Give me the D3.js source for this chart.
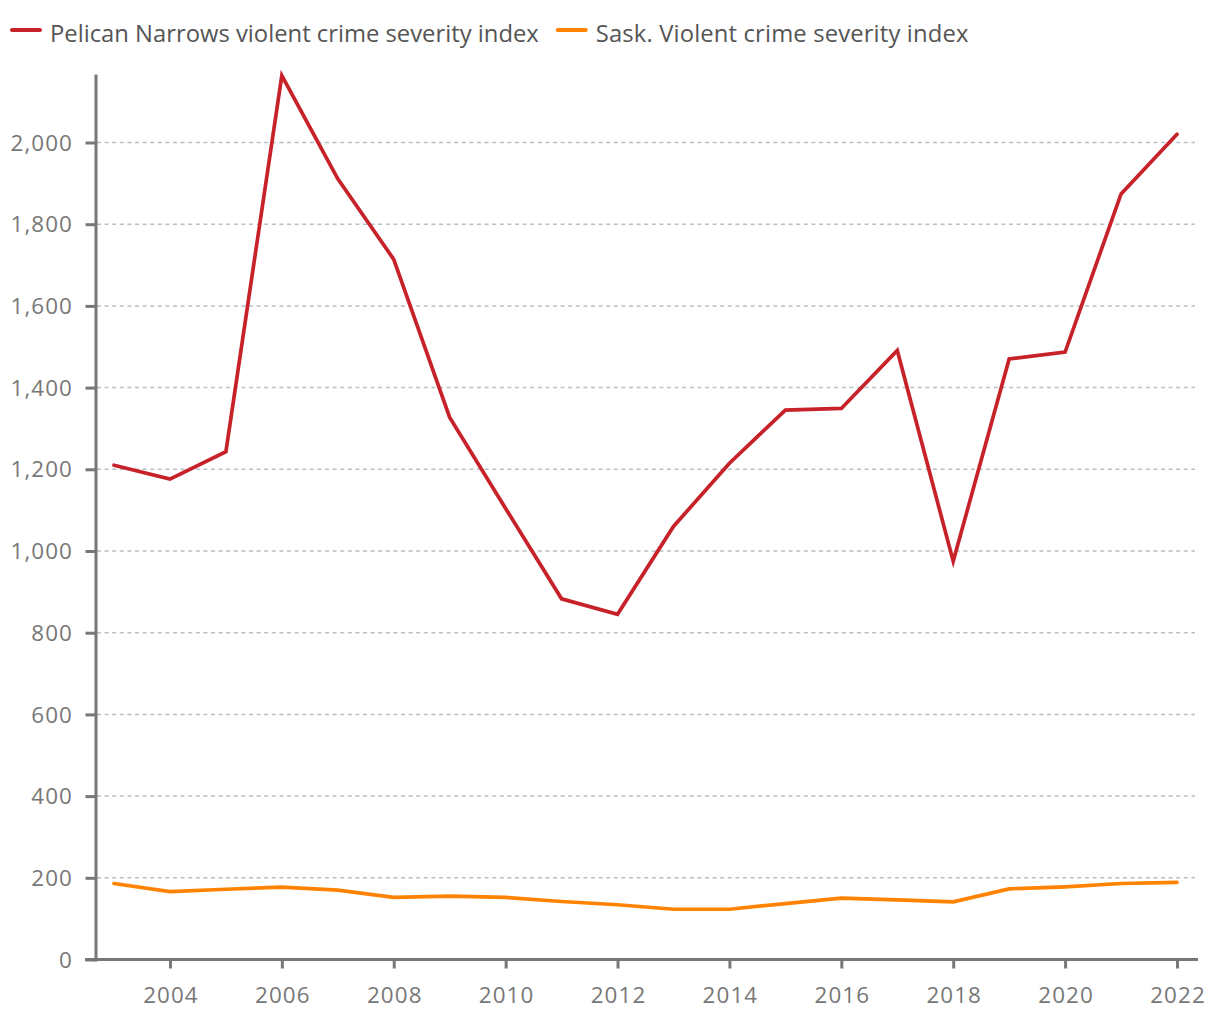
<!DOCTYPE html>
<html><head><meta charset="utf-8">
<script src="https://cdn.jsdelivr.net/npm/d3@7"></script>
<style>body{margin:0;background:#fff} svg{display:block}</style>
</head><body>
<svg id="c" width="1220" height="1020"></svg>
<script>
const years = [2003,2004,2005,2006,2007,2008,2009,2010,2011,2012,2013,2014,2015,2016,2017,2018,2019,2020,2021,2022];
const pelican = [1210,1176,1243,2164,1911,1714,1327,1104,883,845,1060,1215,1345,1349,1491,975,1470,1487,1874,2020];
const sask = [186,166,172,177,170,152,155,152,142,134,123,123,137,150,146,141,173,178,186,189];
const yTicks = [0,200,400,600,800,1000,1200,1400,1600,1800,2000];
const xTicks = [2004,2006,2008,2010,2012,2014,2016,2018,2020,2022];
const seriesNames = ["Pelican Narrows violent crime severity index","Sask. Violent crime severity index"];
const seriesColors = ["#c7212a","#ff8300"];

const svg = d3.select("#c");
const axisColor = "#777777";
const labelColor = "#777777";
const gridColor = "#b6c0c6";

const x = d3.scaleLinear().domain([2003, 2022]).range([114, 1177]);
const y = d3.scaleLinear().domain([0, d3.max(pelican)]).range([959.5, 75.5]);

// gridlines
svg.append("g").selectAll("line").data(yTicks.filter(d => d > 0)).join("line")
  .attr("x1", 97).attr("x2", 1195)
  .attr("y1", d => y(d)).attr("y2", d => y(d))
  .attr("stroke", gridColor).attr("stroke-width", 1.5)
  .attr("stroke-dasharray", "4,3.6");

// y axis
const yAxis = svg.append("g").attr("transform", "translate(95.5,0)")
  .call(d3.axisLeft(y).tickValues(yTicks).tickSize(10).tickSizeOuter(0).tickPadding(13).tickFormat(d3.format(",")));
yAxis.select(".domain").attr("stroke", axisColor).attr("stroke-width", 3).attr("stroke-linecap", "square");
yAxis.selectAll(".tick line").attr("stroke", axisColor).attr("stroke-width", 3);
yAxis.selectAll(".tick text")
  .attr("fill", labelColor).attr("font-family", "'Open Sans'").attr("font-size", 22.4)
  .attr("letter-spacing", 1.1).attr("dy", "0.34em").attr("x", -22.5);

// x axis
const xAxis = svg.append("g").attr("transform", "translate(0,959.5)")
  .call(d3.axisBottom(x).tickValues(xTicks).tickSize(9).tickSizeOuter(0).tickFormat(d3.format("d")));
xAxis.select(".domain").remove();
xAxis.insert("line", ":first-child").attr("x1", 85).attr("x2", 1198).attr("y1", 0).attr("y2", 0)
  .attr("stroke", axisColor).attr("stroke-width", 3);
xAxis.selectAll(".tick line").attr("stroke", axisColor).attr("stroke-width", 3).attr("y1", 1);
xAxis.selectAll(".tick text")
  .attr("fill", labelColor).attr("font-family", "'Open Sans'").attr("font-size", 22.4)
  .attr("letter-spacing", 1.1).attr("y", 43.7).attr("dy", null).attr("dx", 0.5);

// lines
const line = d3.line().x((d, i) => x(years[i])).y(d => y(d));
[pelican, sask].forEach((s, k) => {
  svg.append("path").datum(s)
    .attr("d", line).attr("fill", "none")
    .attr("stroke", seriesColors[k]).attr("stroke-width", 3.7)
    .attr("stroke-linejoin", "miter").attr("stroke-linecap", "round");
});

// legend
let lx = 12;
seriesNames.forEach((name, k) => {
  const g = svg.append("g");
  g.append("line").attr("x1", lx).attr("x2", lx + 28).attr("y1", 30).attr("y2", 30)
    .attr("stroke", seriesColors[k]).attr("stroke-width", 4).attr("stroke-linecap", "round");
  const t = g.append("text").attr("x", lx + 38).attr("y", 42)
    .attr("font-family", "'Open Sans'").attr("font-size", 23.8).attr("fill", "#555555")
    .attr("letter-spacing", k === 1 ? 0.15 : 0)
    .text(name);
  lx = lx + 38 + t.node().getComputedTextLength() + 19;
});
</script>
</body></html>
